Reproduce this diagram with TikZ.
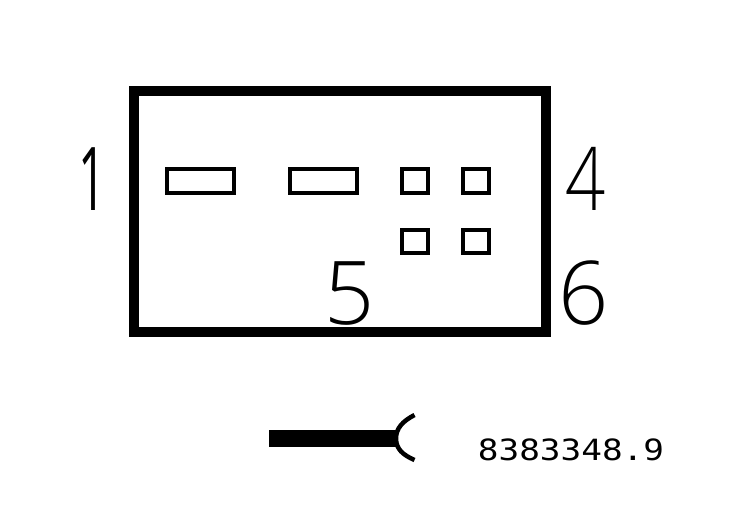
\documentclass[tikz,border=0pt]{standalone}
\usepackage{fontspec}
\setmainfont{Open Sans Light}
\newfontfamily\partfont{DejaVu Sans Mono}
\newfontfamily\onefont{Open Sans}
\begin{document}
\begin{tikzpicture}[x=1pt,y=-1pt,line join=miter]
  \tikzstyle{housing}=[draw,line width=10pt,minimum width=412.5pt,minimum height=241pt,inner sep=0pt]
  \tikzstyle{pin}=[draw,line width=4pt,minimum height=24pt,inner sep=0pt]
  \tikzstyle{slot}=[pin,minimum width=67pt]
  \tikzstyle{hole}=[pin,minimum width=26pt]
  \tikzstyle{digit}=[font=\fontsize{88}{88}\selectfont,inner sep=0pt,anchor=base]
  \useasboundingbox (0,0) rectangle (736,518);

  \node[housing] (H) at (339.75,212) {};

  \node[slot] (P1) at (200.5,181) {};
  \node[slot] (P2) at (323.5,181) {};
  \node[hole] (P3) at (415,181)   {};
  \node[hole] (P4) at (476,181)   {};
  \node[hole,minimum height=23pt] (P5) at (415,241.5) {};
  \node[hole,minimum height=23pt] (P6) at (476,241.5) {};

  \node[digit,xscale=0.55] (L1) at (92,211) {\onefont 1};
  \node[digit,xscale=0.8] (L4) at (586,211)  {4};
  \node[digit] (L5) at (350,325) {5};
  \node[digit] (L6) at (584,325) {6};

  \coordinate (Ca) at (269,438.5);
  \coordinate (Cb) at (397,438.5);
  \coordinate (Ft) at (414.5,415);
  \coordinate (Fb) at (414.5,460);
  \draw[line width=17pt] (Ca) -- (Cb);
  \draw[line width=4.5pt] (Ft) .. controls (403,421) and (396,428) .. (396,438.5)
                               .. controls (396,449) and (403,455) .. (Fb);

  \node[font=\partfont\fontsize{34}{34}\selectfont,inner sep=0pt,anchor=base,xscale=1.01,yscale=0.86] (N) at (571,460) {8383348.9};
\end{tikzpicture}
\end{document}
